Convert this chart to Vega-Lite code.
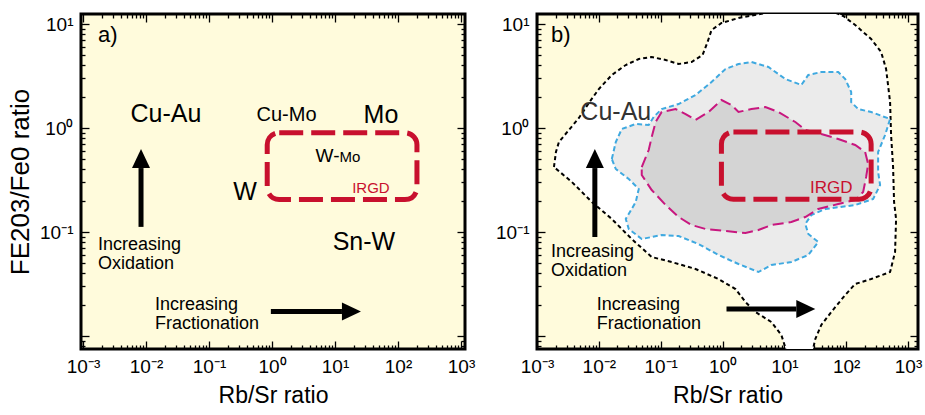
{
  "$schema": "https://vega.github.io/schema/vega-lite/v6.json",
  "background": "white",
  "padding": {"left": 6, "top": 11, "right": 0, "bottom": 3},
  "config": {
    "font": "Liberation Sans",
    "view": {"fill": "#fffbdc", "stroke": "black", "strokeWidth": 3},
    "axis": {"domain": false, "grid": false, "tickColor": "black", "tickWidth": 1.3, "labelFontSize": 19, "labelColor": "black", "titleFontSize": 23, "titleFontWeight": "normal", "titleColor": "black", "labelFlush": false, "labelOverlap": false, "zindex": 1},
    "text": {"color": "black"}
  },
  "datasets": {
    "irgdA": [{"x": 0.84, "x2": 200, "y": 0.205, "y2": 0.9}],
    "irgdB": [{"x": 0.96, "x2": 253, "y": 0.207, "y2": 0.915}],
    "upA": [{"x": 0.00834, "y": 0.112, "y2": 0.412}],
    "rightA": [{"x": 0.96, "x2": 12.9, "y": 0.0172}],
    "upB": [{"x": 0.00862, "y": 0.0895, "y2": 0.412}],
    "rightB": [{"x": 1.16, "x2": 15.6, "y": 0.0182}],
    "bigA": [
      {"x": 0.0207, "y": 1.36, "text": "Cu-Au"},
      {"x": 53.7, "y": 1.33, "text": "Mo"},
      {"x": 28.8, "y": 0.080, "text": "Sn-W"},
      {"x": 0.372, "y": 0.242, "text": "W"}
    ],
    "medA": [{"x": 1.70, "y": 1.33, "text": "Cu-Mo"}],
    "wA": [{"x": 11.8, "y": 0.471, "text": "W-"}],
    "moA": [{"x": 11.8, "y": 0.471, "text": "Mo"}],
    "irgdTextA": [{"x": 37.2, "y": 0.265, "text": "IRGD"}],
    "panelA": [{"x": 0.00173, "y": 7.84, "text": "a)"}],
    "annA": [
      {"x": 0.00173, "y": 0.075, "text": "Increasing\nOxidation"},
      {"x": 0.0139, "y": 0.01987, "text": "Increasing\nFractionation"}
    ],
    "panelB": [{"x": 0.00168, "y": 7.84, "text": "b)"}],
    "cuB": [{"x": 0.0188, "y": 1.425, "text": "Cu-Au"}],
    "irgdTextB": [{"x": 57.3, "y": 0.265, "text": "IRGD"}],
    "annB": [
      {"x": 0.00168, "y": 0.06423, "text": "Increasing\nOxidation"},
      {"x": 0.00929, "y": 0.01987, "text": "Increasing\nFractionation"}
    ],
    "outer": [
      {"i": 0, "x": 0.00188, "y": 0.4217}, {"i": 1, "x": 0.002025, "y": 0.5878}, {"i": 2, "x": 0.002264, "y": 0.7335},
      {"i": 3, "x": 0.003282, "y": 0.957}, {"i": 4, "x": 0.004758, "y": 1.248}, {"i": 5, "x": 0.006898, "y": 1.74},
      {"i": 6, "x": 0.01, "y": 2.371}, {"i": 7, "x": 0.01621, "y": 3.233}, {"i": 8, "x": 0.02726, "y": 4.035},
      {"i": 9, "x": 0.04418, "y": 4.608}, {"i": 10, "x": 0.07158, "y": 4.816}, {"i": 11, "x": 0.1204, "y": 4.507},
      {"i": 12, "x": 0.1951, "y": 4.125}, {"i": 13, "x": 0.3162, "y": 4.312}, {"i": 14, "x": 0.4758, "y": 5.034},
      {"i": 15, "x": 0.573, "y": 6.713}, {"i": 16, "x": 0.6647, "y": 8.755}, {"i": 17, "x": 0.9636, "y": 10.22},
      {"i": 18, "x": 1.812, "y": 11.42}, {"i": 19, "x": 4.938, "y": 12.76}, {"i": 20, "x": 16.82, "y": 13.63},
      {"i": 21, "x": 57.3, "y": 13.34}, {"i": 22, "x": 89.46, "y": 11.94}, {"i": 23, "x": 139.7, "y": 9.781},
      {"i": 24, "x": 253.0, "y": 7.175}, {"i": 25, "x": 366.9, "y": 5.381}, {"i": 26, "x": 441.8, "y": 3.693},
      {"i": 27, "x": 512.5, "y": 1.778}, {"i": 28, "x": 531.8, "y": 0.8562}, {"i": 29, "x": 573.0, "y": 0.4217},
      {"i": 30, "x": 594.6, "y": 0.1943}, {"i": 31, "x": 640.6, "y": 0.1334}, {"i": 32, "x": 617.0, "y": 0.06423},
      {"i": 33, "x": 512.5, "y": 0.04124}, {"i": 34, "x": 253.0, "y": 0.03532}, {"i": 35, "x": 139.7, "y": 0.03162},
      {"i": 36, "x": 96.36, "y": 0.02478}, {"i": 37, "x": 57.3, "y": 0.01701}, {"i": 38, "x": 39.53, "y": 0.01276},
      {"i": 39, "x": 31.62, "y": 0.009358}, {"i": 40, "x": 27.26, "y": 0.006283}, {"i": 41, "x": 11.6, "y": 0.006283},
      {"i": 42, "x": 8.946, "y": 0.01022}, {"i": 43, "x": 6.169, "y": 0.01363}, {"i": 44, "x": 3.406, "y": 0.01701},
      {"i": 45, "x": 2.35, "y": 0.02123}, {"i": 46, "x": 1.621, "y": 0.0283}, {"i": 47, "x": 0.862, "y": 0.03532},
      {"i": 48, "x": 0.3668, "y": 0.04407}, {"i": 49, "x": 0.1504, "y": 0.05147}, {"i": 50, "x": 0.07158, "y": 0.05749},
      {"i": 51, "x": 0.03406, "y": 0.08564}, {"i": 52, "x": 0.01621, "y": 0.1334}, {"i": 53, "x": 0.007711, "y": 0.1943},
      {"i": 54, "x": 0.003668, "y": 0.3026}, {"i": 55, "x": 0.00188, "y": 0.4217}
    ],
    "blue": [
      {"i": 0, "x": 0.01621, "y": 0.5034}, {"i": 1, "x": 0.0188, "y": 0.7335}, {"i": 2, "x": 0.0235, "y": 0.978},
      {"i": 3, "x": 0.03953, "y": 1.093}, {"i": 4, "x": 0.06405, "y": 1.069}, {"i": 5, "x": 0.07711, "y": 1.276},
      {"i": 6, "x": 0.1038, "y": 1.522}, {"i": 7, "x": 0.1951, "y": 1.701}, {"i": 8, "x": 0.3668, "y": 2.077},
      {"i": 9, "x": 0.6647, "y": 2.769}, {"i": 10, "x": 1.118, "y": 3.693}, {"i": 11, "x": 1.812, "y": 4.125},
      {"i": 12, "x": 2.936, "y": 4.311}, {"i": 13, "x": 5.52, "y": 3.86}, {"i": 14, "x": 10.38, "y": 2.959},
      {"i": 15, "x": 18.8, "y": 2.592}, {"i": 16, "x": 24.38, "y": 3.233}, {"i": 17, "x": 39.53, "y": 3.455},
      {"i": 18, "x": 74.3, "y": 3.455}, {"i": 19, "x": 96.36, "y": 2.959}, {"i": 20, "x": 120.4, "y": 2.219},
      {"i": 21, "x": 120.4, "y": 1.778}, {"i": 22, "x": 156.1, "y": 1.522}, {"i": 23, "x": 253.0, "y": 1.425},
      {"i": 24, "x": 512.5, "y": 1.22}, {"i": 25, "x": 425.6, "y": 0.8563}, {"i": 26, "x": 328.2, "y": 0.5878},
      {"i": 27, "x": 328.2, "y": 0.3776}, {"i": 28, "x": 353.5, "y": 0.283}, {"i": 29, "x": 272.6, "y": 0.2076},
      {"i": 30, "x": 139.7, "y": 0.1818}, {"i": 31, "x": 45.84, "y": 0.1664}, {"i": 32, "x": 27.26, "y": 0.1457},
      {"i": 33, "x": 21.82, "y": 0.1194}, {"i": 34, "x": 24.38, "y": 0.09567}, {"i": 35, "x": 35.34, "y": 0.08011},
      {"i": 36, "x": 24.38, "y": 0.0601}, {"i": 37, "x": 12.97, "y": 0.05147}, {"i": 38, "x": 6.169, "y": 0.04816},
      {"i": 39, "x": 3.807, "y": 0.04124}, {"i": 40, "x": 1.812, "y": 0.04924}, {"i": 41, "x": 0.862, "y": 0.0601},
      {"i": 42, "x": 0.4101, "y": 0.07663}, {"i": 43, "x": 0.1951, "y": 0.09153}, {"i": 44, "x": 0.1038, "y": 0.09358},
      {"i": 45, "x": 0.04938, "y": 0.08564}, {"i": 46, "x": 0.03047, "y": 0.1069}, {"i": 47, "x": 0.02726, "y": 0.1334},
      {"i": 48, "x": 0.03953, "y": 0.1943}, {"i": 49, "x": 0.04418, "y": 0.2591}, {"i": 50, "x": 0.03047, "y": 0.3233},
      {"i": 51, "x": 0.0188, "y": 0.4035}, {"i": 52, "x": 0.01621, "y": 0.5034}
    ],
    "magenta": [
      {"i": 0, "x": 0.04938, "y": 0.4217}, {"i": 1, "x": 0.06405, "y": 0.6144}, {"i": 2, "x": 0.07158, "y": 0.8194},
      {"i": 3, "x": 0.08307, "y": 1.142}, {"i": 4, "x": 0.1038, "y": 1.425}, {"i": 5, "x": 0.1745, "y": 1.523},
      {"i": 6, "x": 0.253, "y": 1.363}, {"i": 7, "x": 0.3668, "y": 1.194}, {"i": 8, "x": 0.5946, "y": 1.425},
      {"i": 9, "x": 0.9636, "y": 1.859}, {"i": 10, "x": 1.397, "y": 1.664}, {"i": 11, "x": 1.812, "y": 1.425},
      {"i": 12, "x": 2.936, "y": 1.523}, {"i": 13, "x": 4.938, "y": 1.592}, {"i": 14, "x": 8.001, "y": 1.425},
      {"i": 15, "x": 15.04, "y": 1.142}, {"i": 16, "x": 21.82, "y": 0.9568}, {"i": 17, "x": 39.53, "y": 0.8758},
      {"i": 18, "x": 74.3, "y": 0.7838}, {"i": 19, "x": 139.7, "y": 0.6865}, {"i": 20, "x": 202.5, "y": 0.5878},
      {"i": 21, "x": 226.4, "y": 0.4507}, {"i": 22, "x": 210.2, "y": 0.338}, {"i": 23, "x": 188.0, "y": 0.2424},
      {"i": 24, "x": 139.7, "y": 0.2031}, {"i": 25, "x": 74.3, "y": 0.1858}, {"i": 26, "x": 35.34, "y": 0.1664},
      {"i": 27, "x": 21.82, "y": 0.1394}, {"i": 28, "x": 12.97, "y": 0.1248}, {"i": 29, "x": 6.169, "y": 0.1168},
      {"i": 30, "x": 3.807, "y": 0.1045}, {"i": 31, "x": 2.35, "y": 0.09781}, {"i": 32, "x": 1.118, "y": 0.1022},
      {"i": 33, "x": 0.5319, "y": 0.1069}, {"i": 34, "x": 0.3162, "y": 0.1168}, {"i": 35, "x": 0.1951, "y": 0.1394},
      {"i": 36, "x": 0.1204, "y": 0.1818}, {"i": 37, "x": 0.07158, "y": 0.2533}, {"i": 38, "x": 0.04938, "y": 0.3532},
      {"i": 39, "x": 0.04938, "y": 0.4217}
    ]
  },
  "bounds": "flush",
  "spacing": 72,
  "hconcat": [
    {
      "width": 384,
      "height": 335,
      "layer": [
        {
          "data": {"name": "irgdA"},
          "mark": {"type": "rect", "filled": false, "stroke": "#c8102e", "strokeWidth": 5, "strokeDash": [24, 8], "cornerRadius": 12},
          "encoding": {
            "x": {"field": "x", "type": "quantitative", "scale": {"type": "log", "domain": [0.00093, 1158], "nice": false}, "axis": null},
            "x2": {"field": "x2"},
            "y": {"field": "y", "type": "quantitative", "scale": {"type": "log", "domain": [0.0075, 12.48], "nice": false}, "axis": null},
            "y2": {"field": "y2"}
          }
        },
        {
          "data": {"name": "upA"},
          "mark": {"type": "rule", "strokeWidth": 5, "color": "black", "strokeCap": "butt"},
          "encoding": {
            "x": {"field": "x", "type": "quantitative", "scale": {"type": "log", "domain": [0.00093, 1158], "nice": false}, "axis": null},
            "y": {"field": "y", "type": "quantitative", "scale": {"type": "log", "domain": [0.0075, 12.48], "nice": false}, "axis": null},
            "y2": {"field": "y2"}
          }
        },
        {
          "data": {"name": "upA"},
          "mark": {"type": "point", "shape": "M0,-1.9L0.9,0L-0.9,0Z", "filled": true, "color": "black", "opacity": 1, "size": 400, "strokeWidth": 0},
          "encoding": {
            "x": {"field": "x", "type": "quantitative", "scale": {"type": "log", "domain": [0.00093, 1158], "nice": false}, "axis": null},
            "y": {"field": "y2", "type": "quantitative", "scale": {"type": "log", "domain": [0.0075, 12.48], "nice": false}, "axis": null}
          }
        },
        {
          "data": {"name": "rightA"},
          "mark": {"type": "rule", "strokeWidth": 5, "color": "black", "strokeCap": "butt"},
          "encoding": {
            "x": {"field": "x", "type": "quantitative", "scale": {"type": "log", "domain": [0.00093, 1158], "nice": false}, "axis": null},
            "x2": {"field": "x2"},
            "y": {"field": "y", "type": "quantitative", "scale": {"type": "log", "domain": [0.0075, 12.48], "nice": false}, "axis": null}
          }
        },
        {
          "data": {"name": "rightA"},
          "mark": {"type": "point", "shape": "M0,-1.9L0.9,0L-0.9,0Z", "filled": true, "color": "black", "opacity": 1, "size": 400, "strokeWidth": 0, "angle": 90},
          "encoding": {
            "x": {"field": "x2", "type": "quantitative", "scale": {"type": "log", "domain": [0.00093, 1158], "nice": false}, "axis": null},
            "y": {"field": "y", "type": "quantitative", "scale": {"type": "log", "domain": [0.0075, 12.48], "nice": false}, "axis": null}
          }
        },
        {
          "data": {"name": "bigA"},
          "mark": {"type": "text", "fontSize": 25, "align": "center", "baseline": "middle"},
          "encoding": {
            "x": {"field": "x", "type": "quantitative", "scale": {"type": "log", "domain": [0.00093, 1158], "nice": false},
              "axis": {"orient": "bottom", "values": [0.001,0.002,0.003,0.004,0.005,0.006,0.007,0.008,0.009,0.01,0.02,0.03,0.04,0.05,0.06,0.07,0.08,0.09,0.1,0.2,0.3,0.4,0.5,0.6,0.7,0.8,0.9,1,2,3,4,5,6,7,8,9,10,20,30,40,50,60,70,80,90,100,200,300,400,500,600,700,800,900,1000],
                "labelExpr": "datum.value==0.001?'10⁻³':datum.value==0.01?'10⁻²':datum.value==0.1?'10⁻¹':datum.value==1?'10⁰':datum.value==10?'10¹':datum.value==100?'10²':datum.value==1000?'10³':''",
                "tickSize": {"condition": {"test": "indexof([0.001,0.01,0.1,1,10,100,1000],datum.value)>=0", "value": -8}, "value": -4},
                "labelPadding": 16, "title": "Rb/Sr ratio", "titlePadding": 4}},
            "y": {"field": "y", "type": "quantitative", "scale": {"type": "log", "domain": [0.0075, 12.48], "nice": false},
              "axis": {"orient": "left", "values": [0.008,0.009,0.01,0.02,0.03,0.04,0.05,0.06,0.07,0.08,0.09,0.1,0.2,0.3,0.4,0.5,0.6,0.7,0.8,0.9,1,2,3,4,5,6,7,8,9,10],
                "labelExpr": "datum.value==0.1?'10⁻¹':datum.value==1?'10⁰':datum.value==10?'10¹':''",
                "tickSize": {"condition": {"test": "indexof([0.01,0.1,1,10],datum.value)>=0", "value": -8}, "value": -4},
                "labelPadding": 16, "title": "FE203/Fe0 ratio", "titleFontSize": 26, "titlePadding": 6}},
            "text": {"field": "text"}
          }
        },
        {
          "data": {"name": "medA"},
          "mark": {"type": "text", "fontSize": 20, "align": "center", "baseline": "middle"},
          "encoding": {
            "x": {"field": "x", "type": "quantitative", "scale": {"type": "log", "domain": [0.00093, 1158], "nice": false},
              "axis": {"orient": "top", "values": [0.001,0.002,0.003,0.004,0.005,0.006,0.007,0.008,0.009,0.01,0.02,0.03,0.04,0.05,0.06,0.07,0.08,0.09,0.1,0.2,0.3,0.4,0.5,0.6,0.7,0.8,0.9,1,2,3,4,5,6,7,8,9,10,20,30,40,50,60,70,80,90,100,200,300,400,500,600,700,800,900,1000],
                "labels": false,
                "tickSize": {"condition": {"test": "indexof([0.001,0.01,0.1,1,10,100,1000],datum.value)>=0", "value": -8}, "value": -4},
                "title": null}},
            "y": {"field": "y", "type": "quantitative", "scale": {"type": "log", "domain": [0.0075, 12.48], "nice": false},
              "axis": {"orient": "right", "values": [0.008,0.009,0.01,0.02,0.03,0.04,0.05,0.06,0.07,0.08,0.09,0.1,0.2,0.3,0.4,0.5,0.6,0.7,0.8,0.9,1,2,3,4,5,6,7,8,9,10],
                "labels": false,
                "tickSize": {"condition": {"test": "indexof([0.01,0.1,1,10],datum.value)>=0", "value": -8}, "value": -4},
                "title": null}},
            "text": {"field": "text"}
          }
        },
        {
          "data": {"name": "wA"},
          "mark": {"type": "text", "fontSize": 19, "align": "right", "baseline": "alphabetic"},
          "encoding": {
            "x": {"field": "x", "type": "quantitative", "scale": {"type": "log", "domain": [0.00093, 1158], "nice": false}, "axis": null},
            "y": {"field": "y", "type": "quantitative", "scale": {"type": "log", "domain": [0.0075, 12.48], "nice": false}, "axis": null},
            "text": {"field": "text"}
          }
        },
        {
          "data": {"name": "moA"},
          "mark": {"type": "text", "fontSize": 15, "align": "left", "baseline": "alphabetic"},
          "encoding": {
            "x": {"field": "x", "type": "quantitative", "scale": {"type": "log", "domain": [0.00093, 1158], "nice": false}, "axis": null},
            "y": {"field": "y", "type": "quantitative", "scale": {"type": "log", "domain": [0.0075, 12.48], "nice": false}, "axis": null},
            "text": {"field": "text"}
          }
        },
        {
          "data": {"name": "irgdTextA"},
          "mark": {"type": "text", "fontSize": 15, "align": "center", "baseline": "middle", "color": "#c8102e"},
          "encoding": {
            "x": {"field": "x", "type": "quantitative", "scale": {"type": "log", "domain": [0.00093, 1158], "nice": false}, "axis": null},
            "y": {"field": "y", "type": "quantitative", "scale": {"type": "log", "domain": [0.0075, 12.48], "nice": false}, "axis": null},
            "text": {"field": "text"}
          }
        },
        {
          "data": {"name": "panelA"},
          "mark": {"type": "text", "fontSize": 22, "align": "left", "baseline": "middle"},
          "encoding": {
            "x": {"field": "x", "type": "quantitative", "scale": {"type": "log", "domain": [0.00093, 1158], "nice": false}, "axis": null},
            "y": {"field": "y", "type": "quantitative", "scale": {"type": "log", "domain": [0.0075, 12.48], "nice": false}, "axis": null},
            "text": {"field": "text"}
          }
        },
        {
          "data": {"name": "annA"},
          "mark": {"type": "text", "fontSize": 18, "align": "left", "baseline": "middle", "lineBreak": "\n", "lineHeight": 19},
          "encoding": {
            "x": {"field": "x", "type": "quantitative", "scale": {"type": "log", "domain": [0.00093, 1158], "nice": false}, "axis": null},
            "y": {"field": "y", "type": "quantitative", "scale": {"type": "log", "domain": [0.0075, 12.48], "nice": false}, "axis": null},
            "text": {"field": "text"}
          }
        }
      ]
    },
    {
      "width": 381,
      "height": 335,
      "layer": [
        {
          "data": {"name": "outer"},
          "mark": {"type": "line", "fill": "white", "stroke": "black", "strokeWidth": 2, "strokeDash": [4, 3], "clip": true},
          "encoding": {
            "x": {"field": "x", "type": "quantitative", "scale": {"type": "log", "domain": [0.001, 1449], "nice": false},
              "axis": {"orient": "bottom", "values": [0.001,0.002,0.003,0.004,0.005,0.006,0.007,0.008,0.009,0.01,0.02,0.03,0.04,0.05,0.06,0.07,0.08,0.09,0.1,0.2,0.3,0.4,0.5,0.6,0.7,0.8,0.9,1,2,3,4,5,6,7,8,9,10,20,30,40,50,60,70,80,90,100,200,300,400,500,600,700,800,900,1000],
                "labelExpr": "datum.value==0.001?'10⁻³':datum.value==0.01?'10⁻²':datum.value==0.1?'10⁻¹':datum.value==1?'10⁰':datum.value==10?'10¹':datum.value==100?'10²':datum.value==1000?'10³':''",
                "tickSize": {"condition": {"test": "indexof([0.001,0.01,0.1,1,10,100,1000],datum.value)>=0", "value": -8}, "value": -4},
                "labelPadding": 16, "title": "Rb/Sr ratio", "titlePadding": 4}},
            "y": {"field": "y", "type": "quantitative", "scale": {"type": "log", "domain": [0.0075, 12.48], "nice": false},
              "axis": {"orient": "left", "values": [0.008,0.009,0.01,0.02,0.03,0.04,0.05,0.06,0.07,0.08,0.09,0.1,0.2,0.3,0.4,0.5,0.6,0.7,0.8,0.9,1,2,3,4,5,6,7,8,9,10],
                "labelExpr": "datum.value==0.1?'10⁻¹':datum.value==1?'10⁰':datum.value==10?'10¹':''",
                "tickSize": {"condition": {"test": "indexof([0.01,0.1,1,10],datum.value)>=0", "value": -8}, "value": -4},
                "labelPadding": 16, "title": null}},
            "order": {"field": "i", "type": "quantitative"}
          }
        },
        {
          "data": {"name": "blue"},
          "mark": {"type": "line", "fill": "#ebebeb", "stroke": "#3fa9e0", "strokeWidth": 2, "strokeDash": [5, 3], "clip": true},
          "encoding": {
            "x": {"field": "x", "type": "quantitative", "scale": {"type": "log", "domain": [0.001, 1449], "nice": false},
              "axis": {"orient": "top", "values": [0.001,0.002,0.003,0.004,0.005,0.006,0.007,0.008,0.009,0.01,0.02,0.03,0.04,0.05,0.06,0.07,0.08,0.09,0.1,0.2,0.3,0.4,0.5,0.6,0.7,0.8,0.9,1,2,3,4,5,6,7,8,9,10,20,30,40,50,60,70,80,90,100,200,300,400,500,600,700,800,900,1000],
                "labels": false,
                "tickSize": {"condition": {"test": "indexof([0.001,0.01,0.1,1,10,100,1000],datum.value)>=0", "value": -8}, "value": -4},
                "title": null}},
            "y": {"field": "y", "type": "quantitative", "scale": {"type": "log", "domain": [0.0075, 12.48], "nice": false},
              "axis": {"orient": "right", "values": [0.008,0.009,0.01,0.02,0.03,0.04,0.05,0.06,0.07,0.08,0.09,0.1,0.2,0.3,0.4,0.5,0.6,0.7,0.8,0.9,1,2,3,4,5,6,7,8,9,10],
                "labels": false,
                "tickSize": {"condition": {"test": "indexof([0.01,0.1,1,10],datum.value)>=0", "value": -8}, "value": -4},
                "title": null}},
            "order": {"field": "i", "type": "quantitative"}
          }
        },
        {
          "data": {"name": "magenta"},
          "mark": {"type": "line", "fill": "#d4d4d4", "stroke": "#c8177f", "strokeWidth": 2, "strokeDash": [11, 5], "clip": true},
          "encoding": {
            "x": {"field": "x", "type": "quantitative", "scale": {"type": "log", "domain": [0.001, 1449], "nice": false}, "axis": null},
            "y": {"field": "y", "type": "quantitative", "scale": {"type": "log", "domain": [0.0075, 12.48], "nice": false}, "axis": null},
            "order": {"field": "i", "type": "quantitative"}
          }
        },
        {
          "data": {"name": "irgdB"},
          "mark": {"type": "rect", "filled": false, "stroke": "#c8102e", "strokeWidth": 5, "strokeDash": [24, 8], "cornerRadius": 12},
          "encoding": {
            "x": {"field": "x", "type": "quantitative", "scale": {"type": "log", "domain": [0.001, 1449], "nice": false}, "axis": null},
            "x2": {"field": "x2"},
            "y": {"field": "y", "type": "quantitative", "scale": {"type": "log", "domain": [0.0075, 12.48], "nice": false}, "axis": null},
            "y2": {"field": "y2"}
          }
        },
        {
          "data": {"name": "upB"},
          "mark": {"type": "rule", "strokeWidth": 5, "color": "black", "strokeCap": "butt"},
          "encoding": {
            "x": {"field": "x", "type": "quantitative", "scale": {"type": "log", "domain": [0.001, 1449], "nice": false}, "axis": null},
            "y": {"field": "y", "type": "quantitative", "scale": {"type": "log", "domain": [0.0075, 12.48], "nice": false}, "axis": null},
            "y2": {"field": "y2"}
          }
        },
        {
          "data": {"name": "upB"},
          "mark": {"type": "point", "shape": "M0,-1.9L0.9,0L-0.9,0Z", "filled": true, "color": "black", "opacity": 1, "size": 400, "strokeWidth": 0},
          "encoding": {
            "x": {"field": "x", "type": "quantitative", "scale": {"type": "log", "domain": [0.001, 1449], "nice": false}, "axis": null},
            "y": {"field": "y2", "type": "quantitative", "scale": {"type": "log", "domain": [0.0075, 12.48], "nice": false}, "axis": null}
          }
        },
        {
          "data": {"name": "rightB"},
          "mark": {"type": "rule", "strokeWidth": 5, "color": "black", "strokeCap": "butt"},
          "encoding": {
            "x": {"field": "x", "type": "quantitative", "scale": {"type": "log", "domain": [0.001, 1449], "nice": false}, "axis": null},
            "x2": {"field": "x2"},
            "y": {"field": "y", "type": "quantitative", "scale": {"type": "log", "domain": [0.0075, 12.48], "nice": false}, "axis": null}
          }
        },
        {
          "data": {"name": "rightB"},
          "mark": {"type": "point", "shape": "M0,-1.9L0.9,0L-0.9,0Z", "filled": true, "color": "black", "opacity": 1, "size": 400, "strokeWidth": 0, "angle": 90},
          "encoding": {
            "x": {"field": "x2", "type": "quantitative", "scale": {"type": "log", "domain": [0.001, 1449], "nice": false}, "axis": null},
            "y": {"field": "y", "type": "quantitative", "scale": {"type": "log", "domain": [0.0075, 12.48], "nice": false}, "axis": null}
          }
        },
        {
          "data": {"name": "cuB"},
          "mark": {"type": "text", "fontSize": 25, "align": "center", "baseline": "middle", "color": "#333333"},
          "encoding": {
            "x": {"field": "x", "type": "quantitative", "scale": {"type": "log", "domain": [0.001, 1449], "nice": false}, "axis": null},
            "y": {"field": "y", "type": "quantitative", "scale": {"type": "log", "domain": [0.0075, 12.48], "nice": false}, "axis": null},
            "text": {"field": "text"}
          }
        },
        {
          "data": {"name": "irgdTextB"},
          "mark": {"type": "text", "fontSize": 17, "align": "center", "baseline": "middle", "color": "#c8102e"},
          "encoding": {
            "x": {"field": "x", "type": "quantitative", "scale": {"type": "log", "domain": [0.001, 1449], "nice": false}, "axis": null},
            "y": {"field": "y", "type": "quantitative", "scale": {"type": "log", "domain": [0.0075, 12.48], "nice": false}, "axis": null},
            "text": {"field": "text"}
          }
        },
        {
          "data": {"name": "panelB"},
          "mark": {"type": "text", "fontSize": 22, "align": "left", "baseline": "middle"},
          "encoding": {
            "x": {"field": "x", "type": "quantitative", "scale": {"type": "log", "domain": [0.001, 1449], "nice": false}, "axis": null},
            "y": {"field": "y", "type": "quantitative", "scale": {"type": "log", "domain": [0.0075, 12.48], "nice": false}, "axis": null},
            "text": {"field": "text"}
          }
        },
        {
          "data": {"name": "annB"},
          "mark": {"type": "text", "fontSize": 18, "align": "left", "baseline": "middle", "lineBreak": "\n", "lineHeight": 19},
          "encoding": {
            "x": {"field": "x", "type": "quantitative", "scale": {"type": "log", "domain": [0.001, 1449], "nice": false}, "axis": null},
            "y": {"field": "y", "type": "quantitative", "scale": {"type": "log", "domain": [0.0075, 12.48], "nice": false}, "axis": null},
            "text": {"field": "text"}
          }
        }
      ]
    }
  ]
}
